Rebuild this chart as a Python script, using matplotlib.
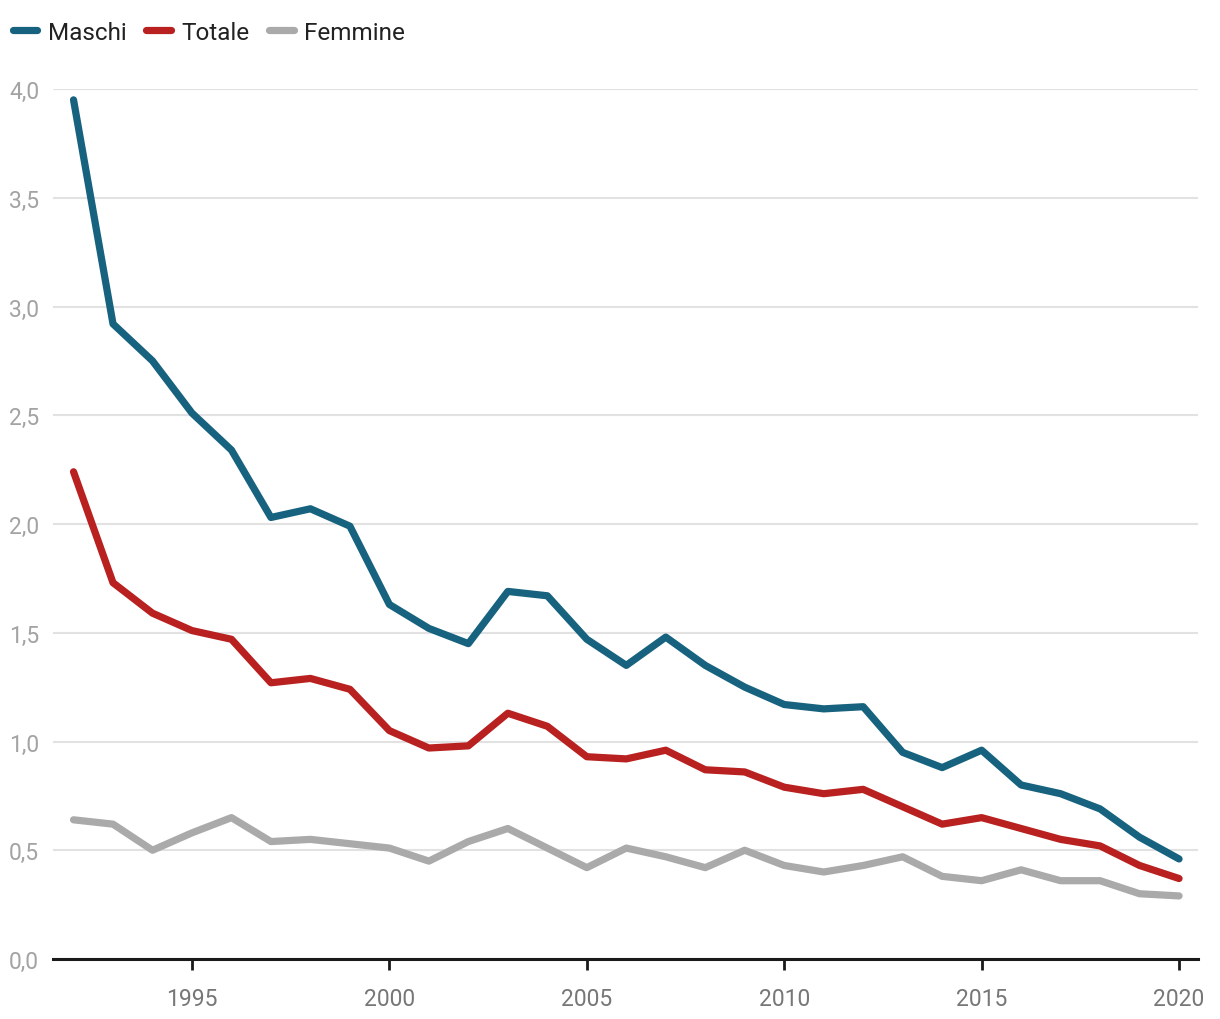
import matplotlib
matplotlib.use('Agg')
import matplotlib.pyplot as plt
from matplotlib.ticker import FuncFormatter

plt.rcParams['font.family'] = ['Roboto', 'DejaVu Sans']

years = list(range(1992, 2021))

maschi = [3.95, 2.92, 2.75, 2.51, 2.34, 2.03, 2.07, 1.99, 1.63, 1.52,
          1.45, 1.69, 1.67, 1.47, 1.35, 1.48, 1.35, 1.25, 1.17, 1.15,
          1.16, 0.95, 0.88, 0.96, 0.80, 0.76, 0.69, 0.56, 0.46]
totale = [2.24, 1.73, 1.59, 1.51, 1.47, 1.27, 1.29, 1.24, 1.05, 0.97,
          0.98, 1.13, 1.07, 0.93, 0.92, 0.96, 0.87, 0.86, 0.79, 0.76,
          0.78, 0.70, 0.62, 0.65, 0.60, 0.55, 0.52, 0.43, 0.37]
femmine = [0.64, 0.62, 0.50, 0.58, 0.65, 0.54, 0.55, 0.53, 0.51, 0.45,
           0.54, 0.60, 0.51, 0.42, 0.51, 0.47, 0.42, 0.50, 0.43, 0.40,
           0.43, 0.47, 0.38, 0.36, 0.41, 0.36, 0.36, 0.30, 0.29]

fig = plt.figure(figsize=(12.2, 10.2), dpi=100)
ax = fig.add_axes([53 / 1220, 1 - 960 / 1020, (1198 - 53) / 1220, (960 - 90) / 1020])

ax.plot(years, maschi, color='#17627e', lw=5.2, solid_capstyle='round', solid_joinstyle='round', label='Maschi', zorder=3)
ax.plot(years, totale, color='#b8211f', lw=5.2, solid_capstyle='round', solid_joinstyle='round', label='Totale', zorder=3)
ax.plot(years, femmine, color='#aaaaaa', lw=5.2, solid_capstyle='round', solid_joinstyle='round', label='Femmine', zorder=2)

ax.set_xlim(1991.48, 2020.48)
ax.set_ylim(0, 4.0)
ax.set_xticks([1995, 2000, 2005, 2010, 2015, 2020])
ax.set_yticks([0, 0.5, 1.0, 1.5, 2.0, 2.5, 3.0, 3.5, 4.0])
ax.yaxis.set_major_formatter(FuncFormatter(lambda v, p: f'{v:.1f}'.replace('.', ',')))

ax.grid(axis='y', color='#e2e2e2', lw=1.5)
ax.set_axisbelow(True)
for s in ['top', 'right', 'left']:
    ax.spines[s].set_visible(False)
ax.spines['bottom'].set_color('#1a1a1a')
ax.spines['bottom'].set_linewidth(2.2)
ax.spines['bottom'].set_zorder(4)

ax.tick_params(axis='x', length=8, width=2, color='#1a1a1a', labelsize=16.5, labelcolor='#777777', pad=12)
ax.tick_params(axis='y', length=0, labelsize=16.5, labelcolor='#a3a3a3', pad=10)

fig.legend(loc='upper left', bbox_to_anchor=(13 / 1220, 1 - 22 / 1020), ncol=3, frameon=False,
           fontsize=17.5, handlelength=1.0, handletextpad=0.45, columnspacing=0.8,
           borderpad=0, borderaxespad=0, labelcolor='#222222')

plt.savefig('out.png', dpi=100)
